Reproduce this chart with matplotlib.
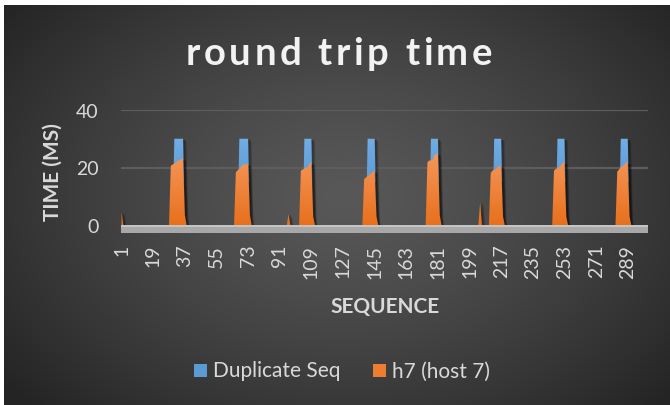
import numpy as np
import matplotlib
matplotlib.use("Agg")
import matplotlib.pyplot as plt
from matplotlib.patches import PathPatch, Rectangle
from matplotlib.path import Path
from matplotlib.transforms import ScaledTranslation
from matplotlib.colors import to_rgb
from matplotlib import font_manager as fm
from matplotlib.ft2font import FT2Font

plt.rcParams['font.family'] = ['Lato', 'DejaVu Sans']

# ---------------- data ----------------
n_categories = 300
x_tick_values = [1, 19, 37, 55, 73, 91, 109, 127, 145, 163, 181, 199, 217, 235, 253, 271, 289]
y_ticks = [0, 20, 40]

series_names = ["Duplicate Seq", "h7 (host 7)"]

# Duplicate Seq: first category of each block and the values in it
dup_block_start = [31, 68, 105, 141, 177, 213, 249, 285]
dup_block_vals = [
    [30, 30, 30, 30, 30, 30],
    [30, 30, 30, 30, 30, 30],
    [30, 30, 30, 30, 30],
    [30, 30, 30, 30, 30],
    [30, 30, 30, 30, 30],
    [30, 30, 30, 30, 30],
    [30, 30, 30, 30, 30],
    [30, 30, 30, 30, 30],
]

# h7 (host 7): first category of each burst and its values
h7_block_start = [29, 66, 103, 139, 175, 211, 247, 283]
h7_block_vals = [
    [20.6, 21.0, 21.4, 21.8, 22.3, 22.6, 23.0, 23.0, 3.5],
    [18.3, 19.0, 19.6, 20.4, 21.0, 21.1, 21.1, 21.2, 3.5],
    [18.9, 19.3, 19.6, 20.0, 20.2, 21.6, 21.7, 3.0],
    [16.0, 16.5, 17.0, 17.5, 18.0, 18.5, 18.9, 3.0],
    [21.8, 22.4, 22.5, 22.6, 24.3, 24.7, 24.7, 3.5],
    [18.1, 18.9, 19.3, 19.5, 20.4, 20.4, 20.4, 3.0],
    [18.9, 19.5, 19.8, 20.1, 20.8, 21.7, 21.7, 3.0],
    [18.5, 19.3, 20.1, 20.5, 20.9, 21.7, 21.7, 3.0],
]
h7_spike_cats = [1, 96, 205]
h7_spike_vals = [4.4, 3.8, 7.9]

# ---------------- build series ----------------
cats = np.arange(1, n_categories + 1)
dup = np.zeros(n_categories)
for s, vals in zip(dup_block_start, dup_block_vals):
    dup[s - 1:s - 1 + len(vals)] = vals
h7 = np.zeros(n_categories)
for s, vals in zip(h7_block_start, h7_block_vals):
    h7[s - 1:s - 1 + len(vals)] = vals
for c, v in zip(h7_spike_cats, h7_spike_vals):
    h7[c - 1] = v

# ---------------- figure ----------------
W, H, DPI = 670, 406, 100
fig = plt.figure(figsize=(W / DPI, H / DPI), dpi=DPI)
fig.patch.set_facecolor('white')

def fx(x):
    return x / W

def fy(y):
    return 1 - y / H

# background radial gradient
bg = fig.add_axes([fx(4), 0, fx(666), 400 / H], zorder=-10)
yy, xx = np.mgrid[0:400, 0:666]
cx, cy = 340, 190
r = np.sqrt(((xx - cx) / 430.0) ** 2 + ((yy - cy) / 300.0) ** 2)
r = np.clip(r, 0, 1)
c_center, c_edge = 0.345, 0.145
val = c_center + (c_edge - c_center) * r ** 1.3
bg.imshow(np.dstack([val, val, val]), aspect='auto', extent=[0, 1, 0, 1])
bg.set_axis_off()

# plot area
L, R, T, B = 120.7, 648, 111, 226
ax = fig.add_axes([fx(L), 1 - B / H, fx(R - L), (B - T) / H])
ax.set_facecolor('none')
for s in ax.spines.values():
    s.set_visible(False)
xmin, xmax = 0.5, n_categories + 0.5
ymin, ymax = 0, 40

for gy in [20, 40]:
    ax.axhline(gy, color='#5d5d5d', lw=1.6, zorder=1)

def shadow(x, y, z):
    for off, a in [(2.5, 0.08), (1.6, 0.10), (0.8, 0.12)]:
        tr = ax.transData + ScaledTranslation(off / DPI, -off / DPI, fig.dpi_scale_trans)
        ax.fill_between(x, 0, y, facecolor='black', edgecolor='black', lw=1.0,
                        alpha=a, transform=tr, zorder=z)

def grad_fill(x, y, c_bot, c_top, y_bot, y_top, z):
    poly = ax.fill_between(x, 0, y, facecolor='none', edgecolor='none', zorder=z)
    path = Path.make_compound_path(*poly.get_paths())
    patch = PathPatch(path, transform=ax.transData, facecolor='none', edgecolor='none')
    ax.add_patch(patch)
    n = 256
    t = np.linspace(0, 1, n)[:, None]
    cb, ct = np.array(to_rgb(c_bot)), np.array(to_rgb(c_top))
    img = cb[None, None, :] * (1 - t[:, :, None]) + ct[None, None, :] * t[:, :, None]
    im = ax.imshow(img, extent=[xmin, xmax, y_bot, y_top], origin='lower',
                   aspect='auto', zorder=z, interpolation='bilinear')
    im.set_clip_path(patch)

shadow(cats, dup, 2)
grad_fill(cats, dup, '#5b9bd5', '#72ade4', 15, 30, 3)
shadow(cats, h7, 4)
grad_fill(cats, h7, '#e8701c', '#f5975a', 0, 25, 5)

ax.set_xlim(xmin, xmax)
ax.set_ylim(ymin, ymax)

# floor
ax.add_patch(Rectangle((0, -8 / (B - T)), 1, 8 / (B - T), transform=ax.transAxes,
                       facecolor='#a8a8a8', edgecolor='none', clip_on=False, zorder=6))
ax.add_patch(Rectangle((0, -2 / (B - T)), 1, 2 / (B - T), transform=ax.transAxes,
                       facecolor='#c4c4c4', edgecolor='none', clip_on=False, zorder=6))

tick_color = '#d9d9d9'
ax.set_xticks(x_tick_values)
ax.set_xticklabels([str(v) for v in x_tick_values], rotation=90, fontsize=14,
                   color=tick_color, va='top', ha='center')
ax.set_yticks(y_ticks)
ax.set_yticklabels([str(v) for v in y_ticks], fontsize=14, color=tick_color)
ax.tick_params(axis='x', length=0, pad=13.5)
ax.tick_params(axis='y', length=0, pad=16)

# title with expanded letter spacing
title = "round trip time"
t_size = 27.5
t_spacing_px = 3.6
fp = fm.FontProperties(family='Lato', weight='bold')
ft = FT2Font(fm.findfont(fp))
ft.set_size(t_size, 72)
adv = []
for ch in title:
    g = ft.load_char(ord(ch))
    adv.append(g.linearHoriAdvance / 65536.0 * DPI / 72.0)
total = sum(adv) + t_spacing_px * (len(title) - 1)
xpos = 339 - total / 2
for ch, a in zip(title, adv):
    if ch != ' ':
        fig.text(fx(xpos), fy(65), ch, fontsize=t_size, fontweight='bold',
                 color='#f2f2f2', ha='left', va='baseline')
    xpos += a + t_spacing_px

fig.text(fx(53), fy(172), "TIME (MS)", fontsize=15, fontweight='bold',
         color='#d9d9d9', ha='center', va='center', rotation=90)
fig.text(fx(385), fy(307), "SEQUENCE", fontsize=15, fontweight='bold',
         color='#d9d9d9', ha='center', va='center')

# legend
leg_items = [(194, '#5b9bd5', series_names[0]), (373, '#ed7d31', series_names[1])]
for x0, col, name in leg_items:
    fig.patches.append(Rectangle((fx(x0), fy(378)), 13 / W, 13 / H, transform=fig.transFigure,
                                 facecolor=col, edgecolor='none'))
    fig.text(fx(x0 + 19), fy(371.5), name, fontsize=15, color='#d9d9d9',
             ha='left', va='center')

fig.savefig('out.png', dpi=DPI, facecolor=fig.get_facecolor())
